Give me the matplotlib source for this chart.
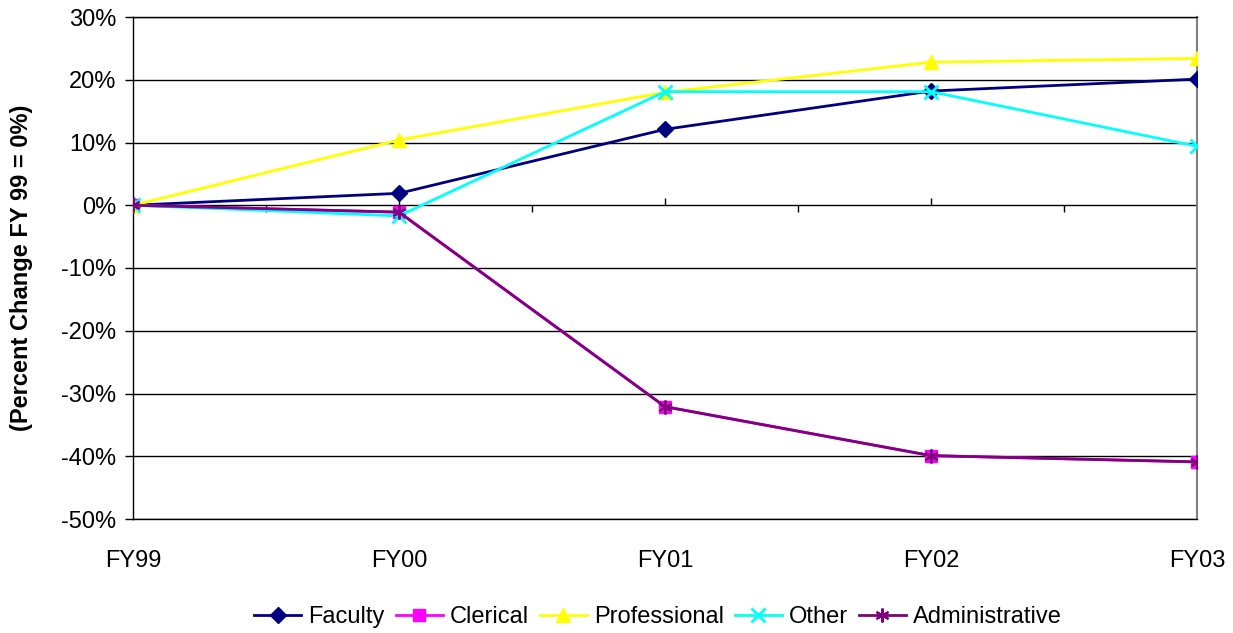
import matplotlib
matplotlib.use("Agg")
import matplotlib.pyplot as plt
from matplotlib.ticker import FuncFormatter

plt.rcParams['font.family'] = ['Liberation Sans', 'DejaVu Sans']

years = ["FY99", "FY00", "FY01", "FY02", "FY03"]
faculty = [0.0, 1.9, 12.1, 18.2, 20.1]
clerical = [0.0, -1.1, -32.1, -39.9, -40.9]
professional = [0.0, 10.4, 18.0, 22.8, 23.4]
other = [0.0, -1.7, 18.1, 18.1, 9.4]
administrative = [0.0, -1.1, -32.1, -39.9, -40.9]
yticks = [30, 20, 10, 0, -10, -20, -30, -40, -50]

fig = plt.figure(figsize=(12.33, 6.33), dpi=100)
ax = fig.add_axes([133/1233, 1 - 519/633, (1197-133)/1233, (519-17)/633])

x = list(range(len(years)))
lw = 2.0
ax.plot(x, faculty, color='#000080', lw=lw, marker='D', ms=8, label='Faculty', zorder=3)
ax.plot(x, clerical, color='#FF00FF', lw=lw, marker='s', ms=9, label='Clerical', zorder=3)
ax.plot(x, professional, color='#FFFF00', lw=lw, marker='^', ms=10, label='Professional', zorder=3)
ax.plot(x, other, color='#00FFFF', lw=lw, marker='x', ms=10, mew=2, label='Other', zorder=3)
ax.plot(x, administrative, color='#800080', lw=lw, marker=(6, 2, 0), ms=10, mew=1.5,
        label='Administrative', zorder=4)

ax.set_xlim(0, len(years) - 1)
ax.set_ylim(-50, 30)

# gridlines
for yv in yticks:
    ax.axhline(yv, color='black', lw=1.0, zorder=1)

# zero-line tick marks
ax.vlines(x[1:], 0, 1.1, color='black', lw=1.0, zorder=1)
mids = [i + 0.5 for i in x[:-1]]
ax.vlines(mids, -1.1, 0, color='black', lw=1.0, zorder=1)

ax.set_yticks(yticks)
ax.yaxis.set_major_formatter(FuncFormatter(lambda v, p: f"{int(v)}%"))
ax.tick_params(axis='y', length=6, width=1, direction='out', labelsize=17, pad=6)
ax.set_xticks(x)
ax.set_xticklabels(years)
ax.tick_params(axis='x', length=0, labelsize=17, pad=22)

for s in ['left', 'bottom', 'top']:
    ax.spines[s].set_color('black')
    ax.spines[s].set_linewidth(1.0)
ax.spines['right'].set_color('#808080')
ax.spines['right'].set_linewidth(1.5)

ax.set_ylabel('(Percent Change FY 99 = 0%)', fontsize=17, fontweight='bold')
ax.yaxis.set_label_coords(-100/1064, 0.5)

fig.legend(loc='center', bbox_to_anchor=(658/1233, 1 - 617/633), ncol=5, frameon=False,
           fontsize=17, handlelength=2.0, columnspacing=0.45, handletextpad=0.3)

fig.savefig('out.png', dpi=100)
